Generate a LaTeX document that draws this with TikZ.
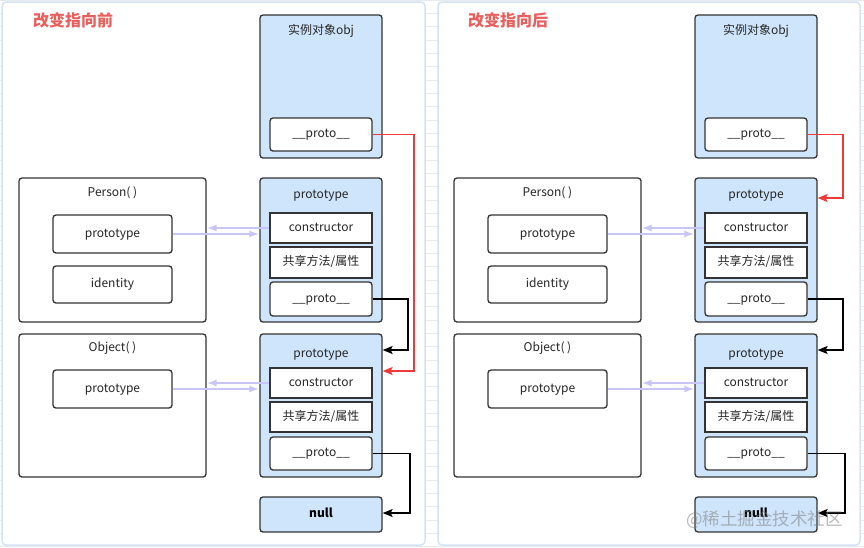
\documentclass[tikz,border=0pt]{standalone}
\usepackage{fontspec}
\setmainfont{Noto Sans CJK SC}
\usetikzlibrary{arrows.meta}
\definecolor{boxblue}{HTML}{CFE5FC}
\definecolor{edge}{HTML}{333333}
\definecolor{panelb}{HTML}{D3E3F3}
\definecolor{redl}{HTML}{F03A3A}
\definecolor{titlered}{HTML}{E8605E}
\definecolor{lav}{HTML}{C8C6F6}
\definecolor{gridc}{HTML}{E6E9EE}
\tikzset{
  txt/.style={font=\fontsize{12}{14}\selectfont, text height=8.5pt, text depth=2.5pt},
  panelbox/.style={draw=panelb, fill=white, line width=1.5pt, rounded corners=4pt},
  bluebox/.style={draw=edge, fill=boxblue, line width=1.3pt, rounded corners=3pt, inner sep=0pt},
  whitebox/.style={draw=edge, fill=white, line width=1.3pt, rounded corners=3pt, inner sep=0pt, txt, text=black!85},
  sqbox/.style={draw=edge, fill=white, line width=1.3pt, inner sep=0pt, txt, text=black!85},
  lbl/.style={inner sep=0pt, txt, text=black!85},
  titletxt/.style={inner sep=0pt, font=\fontsize{16}{18}\selectfont\bfseries, text=titlered},
  blackarrow/.style={draw=black, line width=1.5pt, -{Stealth[length=10pt,width=8pt,inset=2pt]}},
  redarrow/.style={draw=redl, line width=1.5pt, -{Stealth[length=10pt,width=8pt,inset=2pt]}},
  lavarrow/.style={draw=lav, line width=1.8pt, -{Latex[length=10pt,width=7pt]}},
}
\newcommand\drawpanel[3]{%
  \begin{scope}[xshift=#2]
  \node[titletxt, anchor=west] (title#1) at (33,20) {#3};
  % instance object
  \node[bluebox, minimum width=122pt, minimum height=143pt] (obj#1) at (321,86.5) {};
  \node[lbl] (objlbl#1) at (321,31) {实例对象obj};
  \node[whitebox, minimum width=102pt, minimum height=33pt] (objpr#1) at (321,134.5) {\_\_proto\_\_};
  % Person
  \node[draw=edge, fill=white, line width=1.3pt, rounded corners=3pt, minimum width=187pt, minimum height=144pt] (person#1) at (112.5,250) {};
  \node[lbl] (personlbl#1) at (112.5,193) {Person( )};
  \node[whitebox, minimum width=119pt, minimum height=38pt] (pp#1) at (112.5,234) {prototype};
  \node[whitebox, minimum width=119pt, minimum height=37pt] (pid#1) at (112.5,284.5) {identity};
  % Person prototype
  \node[bluebox, minimum width=122pt, minimum height=144pt] (pbox#1) at (321,250) {};
  \node[lbl] (pboxlbl#1) at (321,195) {prototype};
  \node[sqbox, minimum width=102pt, minimum height=30pt] (pcons#1) at (321,228) {constructor};
  \node[sqbox, minimum width=102pt, minimum height=31pt] (pshare#1) at (321,262.5) {共享方法/属性};
  \node[whitebox, minimum width=102pt, minimum height=34pt] (ppr#1) at (321,299) {\_\_proto\_\_};
  % Object
  \node[draw=edge, fill=white, line width=1.3pt, rounded corners=3pt, minimum width=187pt, minimum height=143pt] (object#1) at (112.5,405.5) {};
  \node[lbl] (objectlbl#1) at (112.5,348) {Object( )};
  \node[whitebox, minimum width=119pt, minimum height=38pt] (op#1) at (112.5,389) {prototype};
  % Object prototype
  \node[bluebox, minimum width=122pt, minimum height=143pt] (obox#1) at (321,405.5) {};
  \node[lbl] (oboxlbl#1) at (321,354) {prototype};
  \node[sqbox, minimum width=102pt, minimum height=30pt] (ocons#1) at (321,383) {constructor};
  \node[sqbox, minimum width=102pt, minimum height=30pt] (oshare#1) at (321,417) {共享方法/属性};
  \node[whitebox, minimum width=102pt, minimum height=33pt] (opr#1) at (321,453.5) {\_\_proto\_\_};
  % null
  \node[bluebox, minimum width=122pt, minimum height=35pt, txt, font=\fontsize{12}{14}\selectfont\bfseries] (null#1) at (321,514.5) {null};
  % lavender connectors
  \draw[lavarrow] (pcons#1.west) -- (person#1.east |- pcons#1.west);
  \draw[lavarrow] (pp#1.east) -- (pbox#1.west |- pp#1.east);
  \draw[lavarrow] (ocons#1.west) -- (object#1.east |- ocons#1.west);
  \draw[lavarrow] (op#1.east) -- (obox#1.west |- op#1.east);
  \end{scope}%
}
\begin{document}
\begin{tikzpicture}[x=1pt,y=-1pt]
\useasboundingbox (0,0) rectangle (864,547);
\fill[white] (0,0) rectangle (864,547);
\foreach \yy in {0,13.33,...,547} {\draw[gridc, line width=0.6pt] (0,\yy) -- (864,\yy);}
\draw[panelbox] (2,2) rectangle (425,545);
\draw[panelbox] (438,2) rectangle (860,545);
\drawpanel{L}{0pt}{改变指向前}
\drawpanel{R}{435pt}{改变指向后}
% left panel connectors
\draw[redarrow] (objprL.east) -| (414,371) -- (oboxL.east |- 0,371);
\draw[blackarrow] (pprL.east) -| (408,350) -- (oboxL.east |- 0,350);
\draw[blackarrow] (oprL.east) -| (410,513) -- (nullL.east |- 0,513);
% right panel connectors
\draw[redarrow] (objprR.east) -| (843,198) -- (pboxR.east |- 0,198);
\draw[blackarrow] (pprR.east) -| (843,350) -- (oboxR.east |- 0,350);
\draw[blackarrow] (oprR.east) -| (845,513) -- (nullR.east |- 0,513);
% watermark
\node[inner sep=0pt, anchor=west, font=\fontsize{17.5}{20}\selectfont, text=gray, opacity=0.55] (wm) at (686,520) {@稀土掘金技术社区};
\end{tikzpicture}
\end{document}
